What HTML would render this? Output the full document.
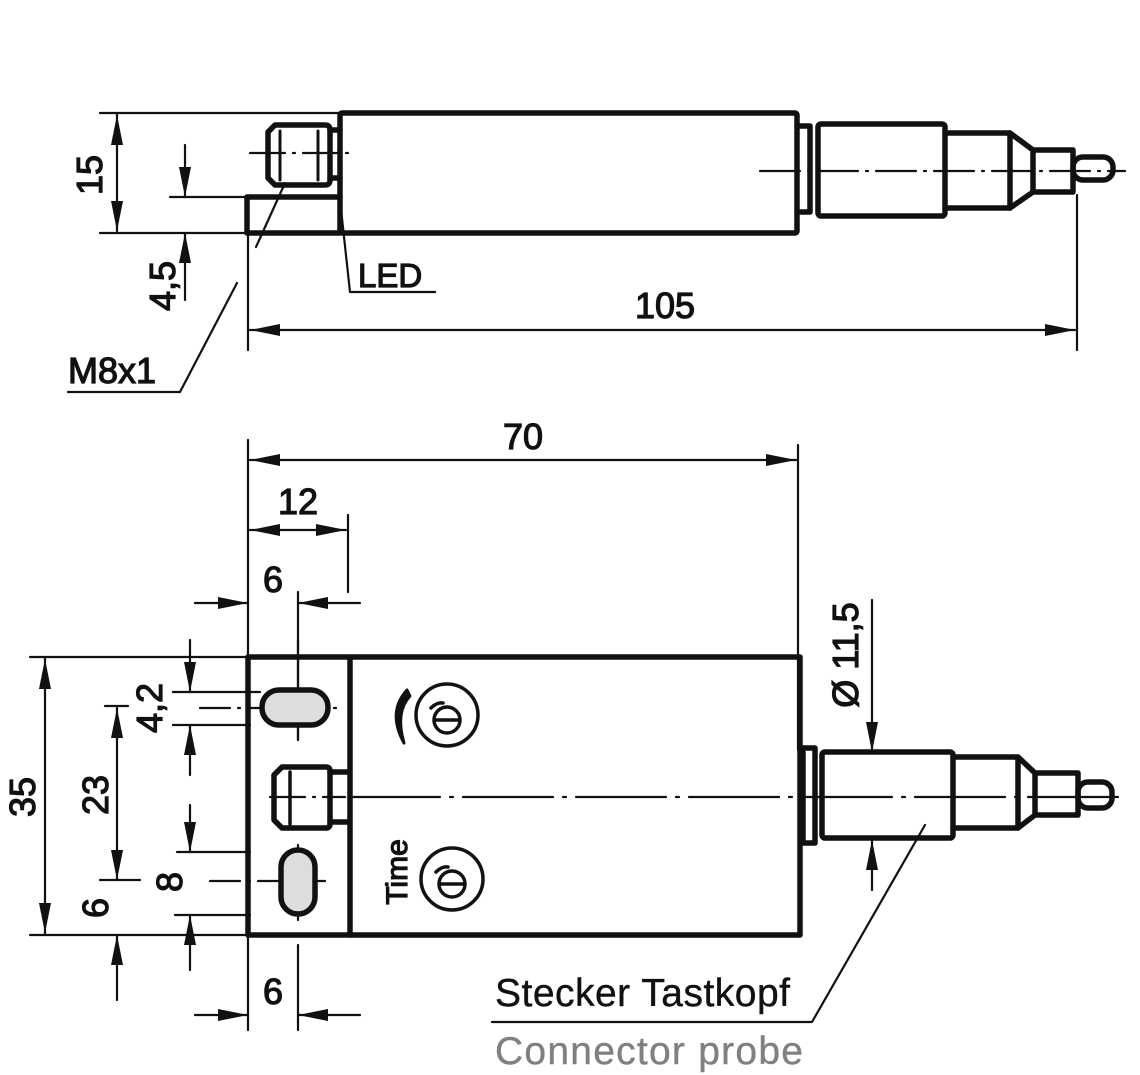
<!DOCTYPE html>
<html><head><style>
html,body{margin:0;padding:0;background:#fff;}
svg{display:block;}
text{font-family:"Liberation Sans",sans-serif;fill:#111;stroke:#111;stroke-width:1.2;}
</style></head><body>
<svg width="1140" height="1075" viewBox="0 0 1140 1075" xmlns="http://www.w3.org/2000/svg">
<defs>
<marker id="a" viewBox="0 0 30 12" refX="30" refY="6" markerWidth="30" markerHeight="12" markerUnits="userSpaceOnUse" orient="auto-start-reverse">
<path d="M0,0 L30,6 L0,12 Z" fill="#111"/>
</marker>
</defs>
<g stroke="#111" fill="none" stroke-linecap="round" stroke-linejoin="round">
<g stroke-width="5.5">
<rect x="340" y="113" width="457" height="120" rx="2"/>
<path d="M340,197 H247 V233 H340"/>
<path d="M275,125 H325 Q330,125 330,130 V180 Q330,185 325,185 H275 L268,178 V132 Z"/>
<path d="M330,130 H340 M330,178 H340"/>
<path d="M797,126 H810 V212 H797"/>
<rect x="818" y="124" width="127" height="92" rx="3"/>
<path d="M945,133 H1010 L1033,150 H1073 V192 H1033 L1010,208 H945"/>
<path d="M1010,133 V208 M1033,150 V192"/>
<rect x="1073" y="157" width="40" height="23" rx="10"/>
</g>
<g stroke-width="3">
<path d="M280,131 V180 M318,131 V180 M810,128 V210 M818,130 V210"/>
</g>
<g stroke-width="2.2">
<path d="M250,153 H350" stroke-dasharray="35,8,2,8"/>
<path d="M760,171 H1125" stroke-dasharray="40,8,2,8"/>
<path d="M100,113 H340 M100,233 H247 M170,197 H247"/>
<path d="M117,115 V231" marker-start="url(#a)" marker-end="url(#a)"/>
<path d="M185,145 V197" marker-end="url(#a)"/>
<path d="M185,300 V233" marker-end="url(#a)"/>
<path d="M248,233 V350 M1077,195 V350"/>
<path d="M250,330 H1075" marker-start="url(#a)" marker-end="url(#a)"/>
<path d="M340,200 L350,292 H435"/>
<path d="M256,247 L285,183"/>
<path d="M68,392 H180 L237,283"/>
<path d="M248,440 V1030 M798,445 V750 M348,515 V592 M298,592 V740 M298,945 V1030"/>
<path d="M250,460 H796" marker-start="url(#a)" marker-end="url(#a)"/>
<path d="M250,530 H346" marker-start="url(#a)" marker-end="url(#a)"/>
<path d="M195,603 H248" marker-end="url(#a)"/>
<path d="M360,603 H298" marker-end="url(#a)"/>
<path d="M195,1015 H248" marker-end="url(#a)"/>
<path d="M360,1015 H298" marker-end="url(#a)"/>
<path d="M30,657 H248 M30,935 H248 M105,706 H128 M100,880 H140"/>
<path d="M173,692 H260 M173,725 H250 M177,852 H250 M175,915 H250"/>
<path d="M45,659 V933" marker-start="url(#a)" marker-end="url(#a)"/>
<path d="M117,708 V880" marker-start="url(#a)" marker-end="url(#a)"/>
<path d="M117,1000 V935" marker-end="url(#a)"/>
<path d="M190,640 V692" marker-end="url(#a)"/>
<path d="M190,775 V725" marker-end="url(#a)"/>
<path d="M190,805 V852" marker-end="url(#a)"/>
<path d="M190,970 V915" marker-end="url(#a)"/>
<path d="M872,600 V752" marker-end="url(#a)"/>
<path d="M872,890 V840" marker-end="url(#a)"/>
<path d="M925,825 L812,1022 H492"/>
<path d="M200,708 H340" stroke-dasharray="30,8,2,8"/>
<path d="M210,881 H325" stroke-dasharray="30,8,2,8"/>
<path d="M298,640 V740 M298,845 V920"/>
<path d="M270,797 H345" stroke-dasharray="35,8,2,8"/>
<path d="M350,797 H1125" stroke-dasharray="90,10,3,10"/>
</g>
<g stroke-width="5.5">
<rect x="248" y="657" width="552" height="278"/>
<path d="M350,657 V935"/>
<rect x="262" y="690" width="66" height="35" rx="17" fill="#ddd"/>
<rect x="281" y="850" width="34" height="64" rx="17" fill="#ddd"/>
<path d="M282,767 H326 Q330,767 330,771 V824 Q330,828 326,828 H282 L274,820 V775 Z"/>
<path d="M330,772 H348 M330,822 H348"/>
<path d="M802,748 H815 V843 H802"/>
<rect x="822" y="752" width="131" height="86" rx="3"/>
<path d="M953,757 H1018 L1035,773 H1078 V815 H1035 L1018,828 H953"/>
<path d="M1018,757 V828 M1035,773 V815"/>
<rect x="1078" y="782" width="34" height="26" rx="10"/>
</g>
<g stroke-width="3.5">
<circle cx="447" cy="715" r="31"/>
<circle cx="452" cy="879" r="31"/>
<circle cx="447" cy="720" r="13"/>
<circle cx="452" cy="884" r="13"/>
<path d="M435,720 H459 M440,884 H464 M431,708 Q437,702 443,703 M436,872 Q442,866 448,867"/>
<path d="M290,772 V824 M804,752 V840"/>
</g>
<path d="M407,690 Q387,712 404,743 Q395,712 410,696 Z" fill="#111" stroke="#111" stroke-width="3"/>
</g>
<g font-size="36">
<text x="102" y="175" transform="rotate(-90 102 175)" text-anchor="middle">15</text>
<text x="175" y="286" transform="rotate(-90 175 286)" text-anchor="middle">4,5</text>
<text x="665" y="318" text-anchor="middle">105</text>
<text x="358" y="287" font-size="33">LED</text>
<text x="68" y="383" font-size="36">M8x1</text>
<text x="523" y="449" text-anchor="middle">70</text>
<text x="298" y="514" text-anchor="middle">12</text>
<text x="273" y="592" text-anchor="middle">6</text>
<text x="273" y="1004" text-anchor="middle">6</text>
<text x="35" y="797" transform="rotate(-90 35 797)" text-anchor="middle">35</text>
<text x="108" y="795" transform="rotate(-90 108 795)" text-anchor="middle">23</text>
<text x="108" y="908" transform="rotate(-90 108 908)" text-anchor="middle">6</text>
<text x="162" y="708" transform="rotate(-90 162 708)" text-anchor="middle">4,2</text>
<text x="182" y="882" transform="rotate(-90 182 882)" text-anchor="middle">8</text>
<text x="858" y="655" transform="rotate(-90 858 655)" text-anchor="middle">Ø 11,5</text>
<text x="407" y="872" font-size="30" transform="rotate(-90 407 872)" text-anchor="middle">Time</text>
<text x="495" y="1006" font-size="39" textLength="295" style="stroke-width:0.4">Stecker Tastkopf</text>
<text x="495" y="1064" font-size="39" textLength="308" style="fill:#808080;stroke:#808080;stroke-width:0.4">Connector probe</text>
</g>
</svg>
</body></html>
